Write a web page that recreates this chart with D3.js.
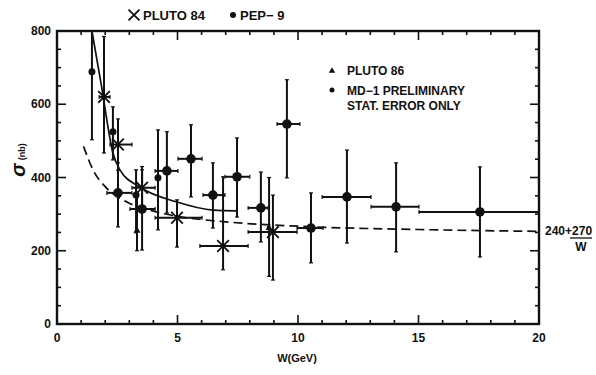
<!DOCTYPE html>
<html>
<head>
<meta charset="utf-8">
<script src="https://cdn.jsdelivr.net/npm/d3@7"></script>
<style>
  body { margin: 0; background: #fff; }
  svg text { font-family: "Liberation Sans", Arial, sans-serif; font-weight: bold; fill: #111; }
</style>
</head>
<body>
<svg id="chart"></svg>
<script>
const width = 596;
const height = 375;

// data: W (GeV), sigma (nb)
// PLUTO 84 (crosses) : w, s, sLo, sHi, wLo, wHi
const plutoW = [1.95, 2.53, 3.53, 4.98, 6.89, 8.96];
const plutoS = [620, 490, 372, 290, 213, 251];
const plutoLo = [467, 420, 320, 210, 148, 120];
const plutoHi = [785, 560, 430, 339, 402, 352];
const plutoWLo = [1.75, 2.2, 3.11, 4.07, 5.93, 7.93];
const plutoWHi = [2.2, 3.11, 4.07, 6.02, 7.93, 9.96];

// PEP-9 (dots, no W bins)
const pepW = [1.45, 2.32, 3.28, 4.19];
const pepS = [689, 525, 352, 399];
const pepLo = [503, 448, 249, 257];
const pepHi = [800, 593, 421, 530];

// PLUTO 86 (small triangles)
const pluto86W = [3.32, 8.8];
const pluto86S = [255, 262];
const pluto86Lo = [200, 130];
const pluto86Hi = [360, 400];

// MD-1 preliminary (dots with W bins)
const mdW = [2.53, 3.53, 4.56, 5.56, 6.47, 7.47, 8.46, 9.54, 10.54, 12.03, 14.07, 17.55];
const mdS = [358, 314, 418, 451, 352, 402, 317, 546, 262, 347, 320, 306];
const mdLo = [265, 202, 303, 347, 262, 292, 224, 399, 167, 221, 197, 183];
const mdHi = [440, 421, 525, 544, 440, 508, 415, 667, 358, 475, 440, 429];
const mdWLo = [2.07, 3.03, 4.07, 5.02, 6.06, 6.97, 7.93, 9.13, 9.96, 11.0, 13.03, 15.02];
const mdWHi = [3.11, 4.07, 5.02, 6.02, 6.97, 8.0, 8.76, 10.08, 11.04, 13.03, 15.02, 20];

// curves
const solidW = [1.45, 1.85, 2.32, 2.61, 3.44, 4.98, 6.47, 7.47];
const solidS = [800, 648, 467, 421, 374, 333, 311, 309];
const dashW = [1.1, 1.5, 2, 3, 4, 5, 7, 10, 15, 20];
const dashS = [485, 420, 375, 330, 308, 294, 279, 267, 258, 253];

const xTicks = [0, 5, 10, 15, 20];
const yTicks = [0, 200, 400, 600, 800];

const svg = d3.select('#chart')
  .attr('width', width)
  .attr('height', height);

const x = d3.scaleLinear().domain([0, 20]).range([57, 539]);
const y = d3.scaleLinear().domain([0, 800]).range([324, 31]);

const ink = '#111';

// frame
svg.append('rect')
  .attr('x', x(0)).attr('y', y(800))
  .attr('width', x(20) - x(0)).attr('height', y(0) - y(800))
  .attr('fill', 'none').attr('stroke', ink).attr('stroke-width', 2.4);

// ticks, all pointing inside
const minorX = d3.range(1, 20);
const minorY = d3.range(50, 800, 50);
const tickG = svg.append('g').attr('stroke', ink).attr('stroke-width', 1.6);
minorX.forEach(v => {
  const len = v % 5 === 0 ? 9 : 4;
  tickG.append('line').attr('x1', x(v)).attr('x2', x(v)).attr('y1', y(0)).attr('y2', y(0) - len);
  tickG.append('line').attr('x1', x(v)).attr('x2', x(v)).attr('y1', y(800)).attr('y2', y(800) + len);
});
minorY.forEach(v => {
  const len = v % 200 === 0 ? 9 : 4;
  tickG.append('line').attr('x1', x(0)).attr('x2', x(0) + len).attr('y1', y(v)).attr('y2', y(v));
  tickG.append('line').attr('x1', x(20)).attr('x2', x(20) - len).attr('y1', y(v)).attr('y2', y(v));
});

// tick labels
svg.append('g').selectAll('text')
  .data(xTicks).enter().append('text')
  .attr('x', d => x(d)).attr('y', 342)
  .attr('text-anchor', 'middle').style('font-size', '12px')
  .text(d => d);
svg.append('g').selectAll('text')
  .data(yTicks).enter().append('text')
  .attr('x', 51).attr('y', d => y(d) + 4)
  .attr('text-anchor', 'end').style('font-size', '12px')
  .text(d => d);

// axis titles
svg.append('text')
  .attr('x', 297).attr('y', 362)
  .attr('text-anchor', 'middle').style('font-size', '11px')
  .text('W(GeV)');
const yt = svg.append('text')
  .attr('transform', 'translate(25,160) rotate(-90)')
  .attr('text-anchor', 'middle');
yt.append('tspan').style('font-size', '20px').style('font-style', 'italic').text('σ');
yt.append('tspan').attr('dx', 3).style('font-size', '9px').text('(nb)');

// curves
const line = d3.line().x(d => x(d[0])).y(d => y(d[1]));
svg.append('path')
  .datum(solidW.map((w, i) => [w, solidS[i]]))
  .attr('d', line.curve(d3.curveMonotoneX))
  .attr('fill', 'none').attr('stroke', ink).attr('stroke-width', 1.7);
svg.append('path')
  .datum(dashW.map((w, i) => [w, dashS[i]]))
  .attr('d', line.curve(d3.curveMonotoneX))
  .attr('fill', 'none').attr('stroke', ink).attr('stroke-width', 1.7)
  .attr('stroke-dasharray', '9,5');

// error bars helper
function errBars(ws, ss, lo, hi, wlo, whi) {
  const g = svg.append('g').attr('stroke', ink).attr('stroke-width', 2);
  ws.forEach((w, i) => {
    g.append('line').attr('x1', x(w)).attr('x2', x(w)).attr('y1', y(lo[i])).attr('y2', y(Math.min(hi[i], 800)));
    g.append('line').attr('x1', x(w) - 2).attr('x2', x(w) + 2).attr('y1', y(lo[i])).attr('y2', y(lo[i])).attr('stroke-width', 1.2);
    if (hi[i] < 800) {
      g.append('line').attr('x1', x(w) - 2).attr('x2', x(w) + 2).attr('y1', y(hi[i])).attr('y2', y(hi[i])).attr('stroke-width', 1.2);
    }
    if (wlo) {
      g.append('line').attr('x1', x(wlo[i])).attr('x2', x(whi[i])).attr('y1', y(ss[i])).attr('y2', y(ss[i]));
      [wlo[i], whi[i]].forEach(e => {
        if (e < 20) g.append('line').attr('x1', x(e)).attr('x2', x(e)).attr('y1', y(ss[i]) - 2).attr('y2', y(ss[i]) + 2).attr('stroke-width', 1.2);
      });
    }
  });
}

errBars(plutoW, plutoS, plutoLo, plutoHi, plutoWLo, plutoWHi);
errBars(pepW, pepS, pepLo, pepHi);
errBars(pluto86W, pluto86S, pluto86Lo, pluto86Hi);
errBars(mdW, mdS, mdLo, mdHi, mdWLo, mdWHi);

// markers
const cross = d3.symbol().type(d3.symbolX).size(90);
svg.append('g').selectAll('path')
  .data(plutoW.map((w, i) => [w, plutoS[i]])).enter().append('path')
  .attr('d', cross)
  .attr('transform', d => `translate(${x(d[0])},${y(d[1])})`)
  .attr('fill', 'none').attr('stroke', ink).attr('stroke-width', 1.8);
svg.append('g').selectAll('circle')
  .data(pepW.map((w, i) => [w, pepS[i]])).enter().append('circle')
  .attr('cx', d => x(d[0])).attr('cy', d => y(d[1])).attr('r', 3.5).attr('fill', ink);
svg.append('g').selectAll('path')
  .data(pluto86W.map((w, i) => [w, pluto86S[i]])).enter().append('path')
  .attr('d', d3.symbol().type(d3.symbolTriangle).size(22))
  .attr('transform', d => `translate(${x(d[0])},${y(d[1])})`)
  .attr('fill', ink);
svg.append('g').selectAll('circle')
  .data(mdW.map((w, i) => [w, mdS[i]])).enter().append('circle')
  .attr('cx', d => x(d[0])).attr('cy', d => y(d[1])).attr('r', 4.8).attr('fill', ink);

// top legend
svg.append('path').attr('d', d3.symbol().type(d3.symbolX).size(80)())
  .attr('transform', 'translate(134,15)')
  .attr('fill', 'none').attr('stroke', ink).attr('stroke-width', 1.8);
svg.append('text').attr('x', 143).attr('y', 20).style('font-size', '13px').text('PLUTO 84');
svg.append('circle').attr('cx', 233).attr('cy', 15).attr('r', 3).attr('fill', ink);
svg.append('text').attr('x', 240).attr('y', 20).style('font-size', '13px').text('PEP\u2212 9');

// inner legend
svg.append('path').attr('d', d3.symbol().type(d3.symbolTriangle).size(18)())
  .attr('transform', 'translate(332,71)').attr('fill', ink);
svg.append('text').attr('x', 347).attr('y', 75).style('font-size', '12px').text('PLUTO 86');
svg.append('circle').attr('cx', 332).attr('cy', 90).attr('r', 2.5).attr('fill', ink);
svg.append('text').attr('x', 347).attr('y', 95).style('font-size', '12px').text('MD\u22121  PRELIMINARY');
svg.append('text').attr('x', 347).attr('y', 110).style('font-size', '12px').text('STAT. ERROR ONLY');

// formula label at the end of the dashed curve
svg.append('text').attr('x', 545).attr('y', 235).style('font-size', '12px').text('240+270');
svg.append('line').attr('x1', 570).attr('x2', 592).attr('y1', 238).attr('y2', 238)
  .attr('stroke', ink).attr('stroke-width', 1.3);
svg.append('text').attr('x', 581).attr('y', 251).attr('text-anchor', 'middle').style('font-size', '12px').text('W');
</script>
</body>
</html>
